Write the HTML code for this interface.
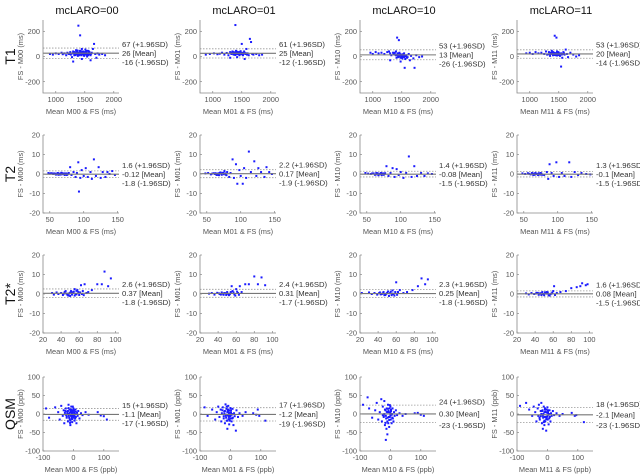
<!DOCTYPE html>
<html><head><meta charset="utf-8">
<style>
html,body{margin:0;padding:0;background:#fff;}
svg{display:block;font-family:"Liberation Sans",sans-serif;}
</style></head>
<body>
<svg id="chart" width="640" height="474" viewBox="0 0 640 474"></svg>
<script>
// ---- data ----
const colTitles = ["mcLARO=00","mcLARO=01","mcLARO=10","mcLARO=11"];
const colCodes = ["M00","M01","M10","M11"];
const rowTitles = ["T1","T2","T2*","QSM"];
const rowUnits = ["ms","ms","ms","ppb"];
const xDomains = [[780,2090],[40,152],[20,104],[-100,150]];
const yDomains = [[-290,290],[-20,20],[-20,20],[-100,100]];
const xTicks = [[1000,1500,2000],[50,100,150],[20,40,60,80,100],[-100,0,100]];
const yTicks = [[200,0,-200],[20,10,0,-10,-20],[20,10,0,-10,-20],[100,50,0,-50,-100]];
const upperLoA = [[67,61,53,53],[1.6,2.2,1.4,1.3],[2.6,2.4,2.3,1.6],[15,17,24,18]];
const meanDiff = [[26,25,13,20],[-0.12,0.17,-0.08,-0.1],[0.37,0.31,0.25,0.08],[-1.1,-1.2,0.30,-2.1]];
const lowerLoA = [[-16,-12,-26,-14],[-1.8,-1.9,-1.5,-1.5],[-1.8,-1.7,-1.8,-1.5],[-17,-19,-23,-23]];
const upperTxt = [["67","61","53","53"],["1.6","2.2","1.4","1.3"],["2.6","2.4","2.3","1.6"],["15","17","24","18"]];
const meanTxt = [["26","25","13","20"],["-0.12","0.17","-0.08","-0.1"],["0.37","0.31","0.25","0.08"],["-1.1","-1.2","0.30","-2.1"]];
const lowerTxt = [["-16","-12","-26","-14"],["-1.8","-1.9","-1.5","-1.5"],["-1.8","-1.7","-1.8","-1.5"],["-17","-19","-23","-23"]];
// scatter points: flat [x,y,...] per panel (row-major)
const t1a = [900,20,950,15,1000,25,1050,20,1100,30,1120,18,1150,25,1180,10,1200,30,1220,22,1250,35,1260,15,1280,-5,1300,40,1310,25,1320,10,1340,30,1350,50,1360,20,1370,35,1380,5,1390,245,1400,28,1410,45,1420,168,1430,15,1440,30,1450,60,1460,20,1470,40,1480,10,1490,25,1500,35,1510,55,1520,15,1530,30,1540,0,1550,25,1560,45,1570,20,1580,35,1600,10,1620,30,1640,60,1660,100,1680,20,1700,-10,1720,25,1750,15,1800,20,1850,10,1300,-40,1450,-20,1600,-30,1330,20,1360,40,1390,15,1420,35,1440,10,1470,25,1500,20,1530,45,1560,10,1410,22,1480,30,1520,25,1350,30,1290,25,1230,20,1320,35,1380,25,1400,10,1430,45,1460,35,1490,5,1510,30,1540,15,1570,40,1590,20,1610,22,1340,12,1370,48,1450,25,1520,38];
const t1b = [880,15,950,20,1020,25,1080,18,1120,22,1160,30,1200,15,1240,28,1270,10,1300,35,1320,20,1340,40,1360,15,1380,30,1390,250,1400,45,1420,20,1440,35,1460,10,1480,25,1500,30,1500,100,1520,15,1540,40,1560,20,1580,60,1600,25,1620,10,1640,140,1660,115,1680,20,1700,15,1750,20,1800,10,1850,15,1300,-10,1420,-5,1550,-20,1330,25,1370,20,1410,30,1450,22,1490,18,1530,28,1570,25,1350,22,1430,28,1470,35,1310,30,1390,12,1410,40,1440,18,1460,30,1510,22,1550,30,1590,15,1360,35,1480,42,1520,10,1400,25];
const t1c = [960,30,1000,20,1050,35,1100,25,1150,30,1200,20,1250,35,1280,40,1300,25,1320,10,1350,30,1380,15,1400,40,1420,150,1450,130,1440,5,1460,20,1480,-10,1500,15,1520,0,1540,25,1560,-20,1580,10,1600,-5,1620,20,1640,-30,1660,5,1700,-15,1720,-90,1750,10,1800,-5,1850,0,1550,-90,1480,-40,1300,-30,1360,20,1400,10,1430,25,1470,5,1510,10,1530,20,1570,0,1410,-10,1490,15,1450,0,1380,30,1420,15,1440,-5,1460,30,1500,0,1520,15,1550,5,1590,-10,1470,18,1510,-15,1430,8,1540,-5];
const t1d = [940,25,1000,30,1050,20,1100,35,1150,25,1200,30,1250,20,1280,40,1300,15,1330,35,1360,20,1380,45,1400,10,1420,30,1430,165,1460,150,1440,25,1470,40,1490,15,1500,30,1520,5,1540,25,1560,-10,1580,35,1600,15,1620,55,1640,20,1660,-5,1700,30,1750,15,1800,0,1850,10,1540,-80,1350,5,1450,10,1410,25,1480,20,1510,18,1390,22,1330,18,1570,20,1370,30,1400,35,1430,12,1460,28,1490,35,1520,22,1550,15,1590,25,1420,18,1470,8,1500,12,1360,28];
const t2a = [48,0.5,50,0.2,52,0.4,55,0,57,0.3,60,-0.2,62,0.5,64,0,66,-0.3,68,0.4,70,0,72,-0.5,74,0.3,76,-0.2,78,0.5,80,3.5,82,-0.5,85,1,88,-1.5,90,0.5,92,6,93,-9,95,-2,97,2,100,-1,103,3,106,-1.5,110,1,112,-2.5,115,7.5,118,-1,122,3.5,125,-2,128,1,132,-1.5,135,1,138,0,142,1.5,146,-0.5,65,0.2,69,-0.1,73,0.1,58,0.1,61,0.3,63,-0.4,67,0.6,71,0.3,75,-0.5,77,0.2,59,-0.3,54,0.3];
const t2b = [48,0.3,52,0.5,56,-0.2,60,0.4,62,0,65,-0.5,67,0.3,70,0.8,72,-0.4,74,0.5,76,1.5,78,-0.3,80,1,83,-1.5,85,0.5,88,7.5,90,-2,93,5,95,-5,98,2,100,-1,103,-5,105,3,108,-2,112,11.5,115,1,120,6.5,123,-1,126,3,130,1,135,-1.5,138,3.5,142,1,146,0,66,0.1,71,0.2,75,-0.1,69,0.5,63,0.4,64,-0.3,68,-0.6,73,0.6,77,0.3,79,-0.6,58,0.2];
const t2c = [48,0.5,52,0.2,56,0,60,0.3,63,-0.3,66,0.4,68,-0.2,70,0.2,72,-0.5,74,0.3,76,0,79,4,82,-1,85,0.5,88,3,91,-1.5,94,2.5,97,-0.5,100,1,104,-2,108,0.5,112,9,116,-1.5,120,4,124,-1,130,0.5,135,-1,140,0.3,146,0,65,0.1,69,-0.1,73,0.2,62,-0.4,64,0.5,67,-0.6,71,0.5,75,-0.4,77,0.4,58,0.3];
const t2d = [48,0.3,52,0,56,0.4,60,-0.2,63,0.3,66,-0.4,68,0.2,70,-0.1,72,0.4,74,-0.3,76,0.2,80,-0.5,84,1,86,-2.5,88,5,91,0.5,94,-1,98,6,102,-1.5,106,0.5,110,-1,117,6,120,-1.5,125,1,130,-0.5,135,0.5,142,0,148,-0.2,65,0.1,69,0,73,0.1,62,0.5,64,-0.5,67,0.5,71,-0.5,75,0.5,77,-0.4,58,0.1];
const t2sa = [30,0.5,32,-0.3,35,0.8,37,0,40,0.5,42,-0.5,44,1,46,0.2,48,-0.8,50,0.7,52,-0.3,54,1.2,56,0,58,2,60,-0.5,62,4.5,64,1.5,66,5,68,0.5,70,1,74,2,80,5,85,5,88,11.5,92,4,95,8,45,1.5,49,0.3,53,0.5,57,-0.2,61,0.8,55,2.5,43,0.2,47,-0.4,51,1.5,55,-0.8,59,1,63,0,65,-0.6,50,-1,57,1.6,52,0.9];
const t2sb = [30,0.2,33,0.5,36,-0.3,39,0.6,42,0,44,0.8,46,-0.4,48,0.4,50,1,52,-0.6,54,0.5,56,1.5,58,-0.2,60,2.5,62,0.5,64,4,66,1,70,5,74,5,80,9,84,5,88,8.5,92,4.5,55,4,45,0.2,51,0.1,47,0.5,53,-0.1,41,0.3,49,-0.5,57,0.8,59,-0.8,61,1.2,63,-0.4,43,-0.3,54,1];
const t2sc = [22,0.5,30,0.8,33,0,36,0.5,39,-0.3,42,0.8,44,0,46,1,48,-0.5,50,0.6,52,-1,54,1.2,56,0.2,58,-0.8,60,6,62,1,64,2,68,0.5,72,1,78,2,84,4,88,8,92,5,95,7.5,45,0.3,49,0.1,53,0.4,57,0,41,0.4,47,-0.6,51,1.3,55,-0.6,59,1,61,-0.4,43,-0.2,56,1.8];
const t2sd = [30,0.3,33,-0.2,36,0.5,39,0,42,0.6,44,-0.4,46,0.4,48,1,50,-0.6,52,0.3,54,0.8,56,-0.8,58,0.2,60,1.5,61,4,64,0.5,68,1,74,1.5,80,3,86,3.5,90,4,92,5.5,96,4.5,98,5,45,0.2,49,0,53,0.2,57,-0.1,41,0.3,47,-0.5,51,0.8,55,-0.6,59,0.7,62,-0.5,43,0.5,53,1];
const qa = [-90,15,-80,-10,-60,18,-50,5,-45,-15,-40,22,-35,-5,-32,10,-30,-25,-28,3,-25,15,-22,-10,-20,5,-18,-20,-16,25,-15,0,-13,12,-12,-15,-10,-30,-9,8,-8,-5,-7,20,-6,-12,-5,2,-4,-22,-3,10,-2,-3,0,15,1,-10,2,5,4,-18,5,0,7,12,8,-8,10,-25,12,3,14,-5,16,8,20,-12,25,2,30,-3,40,5,50,-2,80,5,90,-4,100,-6,110,-15,-20,0,-15,-5,-10,5,-5,-8,0,3,-25,-2,-12,3,-3,6,3,-6,-18,8,-14,-10,-8,12,-4,-14,2,10,6,-12,-22,-6,-10,-18,-6,6,0,-6,4,-2,-16,16,-2,20,-26,8,-11,-24,8,6];
const qb = [-85,18,-75,-5,-60,12,-50,-15,-45,5,-40,20,-36,-8,-32,12,-30,-20,-28,2,-25,18,-22,-12,-20,6,-18,-25,-16,26,-15,-2,-13,14,-12,-18,-10,-40,-9,8,-8,-4,-7,22,-6,-14,-5,2,-4,-28,-3,10,-2,-5,0,16,1,-12,2,4,4,-20,5,0,7,14,8,-10,10,-30,12,2,14,-6,18,-45,20,10,25,-8,30,2,40,-5,50,5,75,2,85,-2,90,12,95,-5,115,-18,-20,0,-15,-5,-10,5,-5,-8,0,3,-18,8,-14,-10,-8,12,-4,-14,2,10,6,-12,-22,-6,-10,-18,-6,6,0,-6,4,-2,-26,10,-12,20,-2,-18];
const qc = [-90,25,-75,45,-70,15,-60,-10,-50,10,-45,30,-40,-15,-35,5,-30,40,-28,-20,-25,20,-22,-5,-20,35,-18,-30,-16,10,-15,-70,-13,-40,-12,15,-10,-55,-9,-10,-8,25,-7,-25,-5,5,-4,-35,-3,15,-2,-8,0,20,1,-15,2,8,4,-25,5,0,7,15,8,-12,10,-20,12,5,14,-5,18,10,22,-3,30,2,40,-5,50,0,80,2,90,3,100,-2,110,-5,-20,0,-15,-5,-10,5,-5,-8,0,3,-25,-3,-12,6,-18,12,-14,-12,-8,14,-4,-16,2,12,6,-10,-22,-8,-10,-20,-6,8,0,-4,4,-2,-16,-24,-2,24];
const qd = [-90,22,-70,30,-60,12,-50,-5,-45,20,-40,5,-36,-20,-32,15,-30,-5,-28,25,-25,-15,-22,8,-20,30,-18,-25,-16,10,-15,-40,-13,0,-12,20,-10,-30,-9,-8,-8,15,-7,-20,-5,5,-4,-45,-3,12,-2,-10,0,18,1,-15,2,5,4,-28,5,0,7,10,8,-8,10,-20,12,2,14,-5,18,8,22,-3,30,2,40,-5,50,0,80,3,90,-5,95,-3,120,-22,-20,0,-15,-5,-10,5,-5,-8,0,3,-18,8,-14,-10,-8,12,-4,-14,2,10,6,-12,-22,-6,-10,-18,-6,6,0,-6,4,-2,-26,-10,-12,-22];
const panelPoints = [[t1a,t1b,t1c,t1d],[t2a,t2b,t2c,t2d],[t2sa,t2sb,t2sc,t2sd],[qa,qb,qc,qd]];

// ---- layout ----
const colLeft = [43,200,360,517];
const boxW = 76;
const rowTop = [20,135,255,377];
const rowBot = [93,213,333,451];
const FS = 7.4;
const NS = "http://www.w3.org/2000/svg";
const svg = document.getElementById('chart');
function mk(tag, attrs, parent){ const e=document.createElementNS(NS,tag); for(const k in attrs) e.setAttribute(k,attrs[k]); (parent||svg).appendChild(e); return e; }

colTitles.forEach((t,c)=>{
  const e=mk('text',{x:colLeft[c]+boxW/2+6,y:14,'text-anchor':'middle','font-size':'11','fill':'#111'});
  e.textContent=t;
  
  
});
rowTitles.forEach((t,r)=>{
  const cy=(rowTop[r]+rowBot[r])/2;
  const e=mk('text',{x:0,y:0,transform:`translate(15,${cy}) rotate(-90)`,'text-anchor':'middle','font-size':'14','fill':'#111'});
  e.textContent=t;
  
  
});

for(let r=0;r<4;r++){
  for(let c=0;c<4;c++){
    const g=mk('g',{});
    
    
    const L=colLeft[c], R=L+boxW, T=rowTop[r], B=rowBot[r];
    const [x0,x1]=xDomains[r], [y0,y1]=yDomains[r];
    const sx=v=>L+(v-x0)/(x1-x0)*(R-L);
    const sy=v=>B-(v-y0)/(y1-y0)*(B-T);
    const uy=sy(upperLoA[r][c]), my=sy(meanDiff[r][c]), ly=sy(lowerLoA[r][c]);
    const ul=mk('line',{x1:L,x2:R,y1:uy,y2:uy,stroke:'#999','stroke-width':0.8,'stroke-dasharray':'1.5,1.5'},g);
    
    
    const ll=mk('line',{x1:L,x2:R,y1:ly,y2:ly,stroke:'#999','stroke-width':0.8,'stroke-dasharray':'1.5,1.5'},g);
    
    
    const pts=panelPoints[r][c];
    for(let i=0;i<pts.length;i+=2){
      const p=mk('rect',{x:sx(pts[i])-1,y:sy(pts[i+1])-1,width:2,height:2,fill:'#1a1aff'},g);
      
      
    }
    const ml=mk('line',{x1:L,x2:R,y1:my,y2:my,stroke:'#777','stroke-width':1.1},g);
    
    
    const ax=mk('path',{d:`M${L},${T}V${B}H${R}`,fill:'none',stroke:'#888','stroke-width':0.8},g);
    
    
    yTicks[r].forEach(v=>{
      const y=sy(v);
      mk('line',{x1:L,x2:L+2,y1:y,y2:y,stroke:'#888','stroke-width':0.7},g);
      const t=mk('text',{x:L-3,y:y+2.6,'text-anchor':'end','font-size':FS,'fill':'#555'},g);
      t.textContent=v;
      
      
    });
    xTicks[r].forEach(v=>{
      const x=sx(v);
      mk('line',{x1:x,x2:x,y1:B,y2:B-2,stroke:'#888','stroke-width':0.7},g);
      const t=mk('text',{x:x,y:B+9,'text-anchor':'middle','font-size':FS,'fill':'#555'},g);
      t.textContent=v;
      
      
    });
    const xl=mk('text',{x:(L+R)/2,y:B+21,'text-anchor':'middle','font-size':FS,'fill':'#555'},g);
    xl.textContent='Mean '+colCodes[c]+' & FS ('+rowUnits[r]+')';
    
    
    const yl=mk('text',{x:0,y:0,transform:`translate(${L-20},${(T+B)/2}) rotate(-90)`,'text-anchor':'middle','font-size':FS,'fill':'#555'},g);
    yl.textContent='FS - '+colCodes[c]+' ('+rowUnits[r]+')';
    
    
    const tuy=Math.min(uy-3,my-9), tly=Math.max(ly+3,my+9);
    const a1=mk('text',{x:R+3,y:tuy+2.6,'font-size':FS+0.3,'fill':'#333'},g);
    a1.textContent=upperTxt[r][c]+' (+1.96SD)';
    
    
    const a2=mk('text',{x:R+3,y:my+2.6,'font-size':FS+0.3,'fill':'#333'},g);
    a2.textContent=meanTxt[r][c]+' [Mean]';
    
    
    const a3=mk('text',{x:R+3,y:tly+2.6,'font-size':FS+0.3,'fill':'#333'},g);
    a3.textContent=lowerTxt[r][c]+' (-1.96SD)';
    
    
  }
}
</script>
</body></html>
